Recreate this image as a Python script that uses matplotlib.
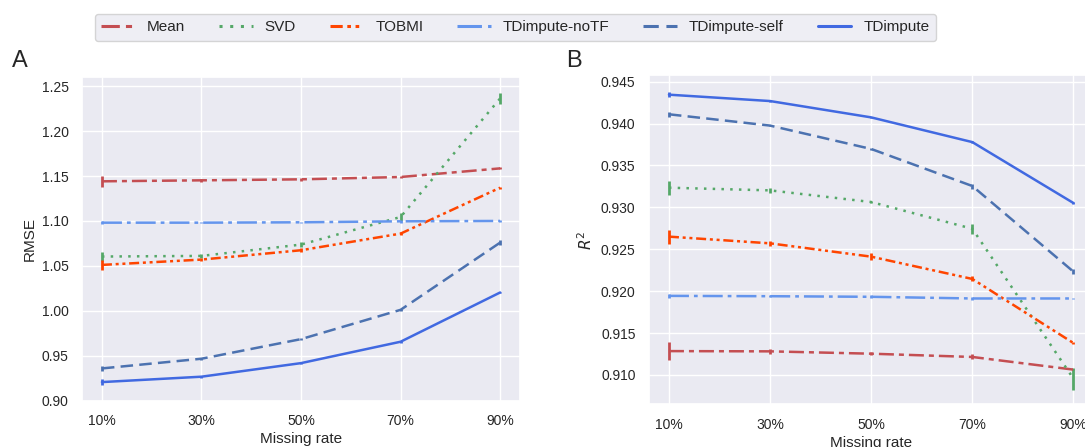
import numpy as np
import matplotlib
matplotlib.use("Agg")
import matplotlib.pyplot as plt
from matplotlib.lines import Line2D
import seaborn as sns

sns.set_theme(style="darkgrid")
plt.rcParams['font.family'] = ['Liberation Sans', 'DejaVu Sans']

rates = ["10%", "30%", "50%", "70%", "90%"]
methods = ["Mean", "SVD", "TOBMI", "TDimpute-noTF", "TDimpute-self", "TDimpute"]

rmse_mean = [1.1441, 1.1452, 1.1463, 1.1489, 1.1585]
rmse_svd = [1.0604, 1.0611, 1.0737, 1.1044, 1.2363]
rmse_tobmi = [1.0511, 1.0570, 1.0674, 1.0859, 1.1370]
rmse_notf = [1.0981, 1.0981, 1.0985, 1.0996, 1.1000]
rmse_self = [0.9359, 0.9467, 0.9685, 1.0011, 1.0759]
rmse_td = [0.9207, 0.9267, 0.9418, 0.9656, 1.0204]

rmse_err = {
    "Mean": [0.0060, 0.0015, 0.0020, 0.0015, 0.0010],
    "SVD": [0.0055, 0.0020, 0.0025, 0.0045, 0.0060],
    "TOBMI": [0.0060, 0.0020, 0.0025, 0.0015, 0.0010],
    "TDimpute-noTF": [0.0020, 0.0008, 0.0008, 0.0020, 0.0008],
    "TDimpute-self": [0.0030, 0.0010, 0.0010, 0.0010, 0.0030],
    "TDimpute": [0.0030, 0.0010, 0.0010, 0.0010, 0.0008],
}

r2_mean = [0.91285, 0.91282, 0.91254, 0.91215, 0.91064]
r2_svd = [0.93235, 0.93203, 0.93064, 0.92745, 0.90956]
r2_tobmi = [0.92651, 0.92571, 0.92412, 0.92146, 0.91381]
r2_notf = [0.91944, 0.91940, 0.91933, 0.91913, 0.91913]
r2_self = [0.94111, 0.93976, 0.93697, 0.93255, 0.92233]
r2_td = [0.94345, 0.94269, 0.94074, 0.93779, 0.93052]

r2_err = {
    "Mean": [0.0011, 0.0003, 0.0002, 0.0003, 0.0001],
    "SVD": [0.00085, 0.0003, 0.0001, 0.0006, 0.0013],
    "TOBMI": [0.00085, 0.0003, 0.0004, 0.0003, 0.0001],
    "TDimpute-noTF": [0.0002, 0.0001, 0.0002, 0.0002, 0.0001],
    "TDimpute-self": [0.0003, 0.0001, 0.0001, 0.0003, 0.0003],
    "TDimpute": [0.0003, 0.0001, 0.0001, 0.0001, 0.0001],
}

rmse_vals = [rmse_mean, rmse_svd, rmse_tobmi, rmse_notf, rmse_self, rmse_td]
r2_vals = [r2_mean, r2_svd, r2_tobmi, r2_notf, r2_self, r2_td]

colors = ["#c44e52", "#55a868", "orangered", "cornflowerblue", "#4c72b0", "royalblue"]
styles = [(0, (6, 2, 2, 2)), (0, (1, 2.5)), (0, (4, 1.5, 1.2, 1.5, 1.2, 1.5)),
          (0, (8, 2, 1.5, 2)), (0, (5, 2.5)), "-"]

fig = plt.figure(figsize=(10.85, 4.47), dpi=100)
ax1 = fig.add_axes([0.0756, 0.1036, 0.4037, 0.7248])
ax2 = fig.add_axes([0.5979, 0.0955, 0.4101, 0.7360])

x = np.arange(len(rates))
handles = []
for i, m in enumerate(methods):
    ax1.errorbar(x, rmse_vals[i], yerr=rmse_err[m], color=colors[i], lw=1.8,
                 linestyle=styles[i], elinewidth=2, capsize=0)
    ax2.errorbar(x, r2_vals[i], yerr=r2_err[m], color=colors[i], lw=1.8,
                 linestyle=styles[i], elinewidth=2, capsize=0)
    handles.append(Line2D([], [], color=colors[i], lw=2.2, linestyle=styles[i]))

for ax in (ax1, ax2):
    ax.set_xticks(x)
    ax.set_xticklabels(rates, fontsize=10)
    ax.set_xlim(-0.2, 4.2)
    ax.set_xlabel("Missing rate", fontsize=11, labelpad=3)
    ax.tick_params(axis='y', labelsize=10)

ax1.set_ylim(0.9, 1.2605)
ax1.set_yticks([0.90, 0.95, 1.00, 1.05, 1.10, 1.15, 1.20, 1.25])
ax1.set_yticklabels(["0.90", "0.95", "1.00", "1.05", "1.10", "1.15", "1.20", "1.25"])
ax1.set_ylabel("RMSE", fontsize=11)

ax2.set_ylim(0.9065, 0.94576)
ax2.set_yticks([0.910, 0.915, 0.920, 0.925, 0.930, 0.935, 0.940, 0.945])
ax2.set_yticklabels(["0.910", "0.915", "0.920", "0.925", "0.930", "0.935", "0.940", "0.945"])
ax2.set_ylabel("$R^2$", fontsize=11)

fig.text(0.011, 0.85, "A", fontsize=17)
fig.text(0.522, 0.85, "B", fontsize=17)

leg = fig.legend(handles, methods, loc="upper center", bbox_to_anchor=(0.475, 0.985),
                 ncol=6, fontsize=11, frameon=True, columnspacing=2.2, handlelength=2.2)
leg.get_frame().set_facecolor("#eaeaf2")
leg.get_frame().set_edgecolor("#cccccc")

fig.savefig("out.png", dpi=100)
